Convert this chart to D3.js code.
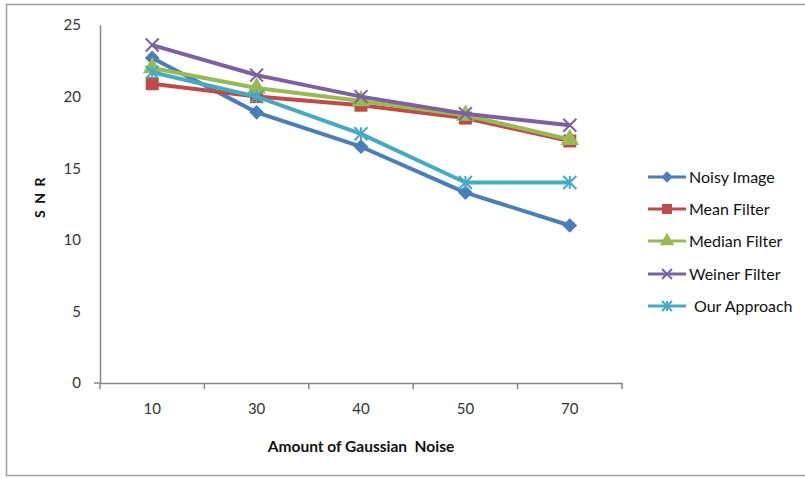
<!DOCTYPE html>
<html><head><meta charset="utf-8">
<script src="https://cdn.jsdelivr.net/npm/d3@7"></script>
<style>body{margin:0;background:#fff}svg{display:block}text{font-family:Lato,"Open Sans",sans-serif;white-space:pre}</style>
</head><body>
<script>
const categories = ["10","30","40","50","70"];
const noisyImage = [22.7, 18.9, 16.5, 13.3, 11.0];
const meanFilter = [20.9, 20.0, 19.4, 18.5, 16.9];
const medianFilter = [22.0, 20.6, 19.7, 18.7, 17.0];
const weinerFilter = [23.6, 21.5, 20.0, 18.8, 18.0];
const ourApproach = [21.7, 20.0, 17.4, 14.0, 14.0];
const yTicks = [0,5,10,15,20,25];
const seriesNames = ["Noisy Image","Mean Filter","Median Filter","Weiner Filter","Our Approach"];
const seriesColors = ["#4a7ebb","#be4b48","#98b954","#7d60a0","#46aac5"];
const seriesMarkers = ["diamond","square","triangle","x","star"];
const seriesData = [noisyImage, meanFilter, medianFilter, weinerFilter, ourApproach];

const W=805,H=479;
const svg=d3.select("body").append("svg").attr("width",W).attr("height",H);
svg.append("rect").attr("x",6.5).attr("y",4.5).attr("width",W+10).attr("height",471).attr("fill","#fff").attr("stroke","#a0a0a0").attr("stroke-width",1.5);

const x=d3.scaleBand().domain(categories).range([100,622]);
const y=d3.scaleLinear().domain([0,25]).range([383,25]);

const yAx=svg.append("g").attr("transform","translate(100,0)").call(d3.axisLeft(y).tickValues(yTicks).tickSize(0).tickPadding(19));
const xAx=svg.append("g").attr("transform","translate(0,383)").call(d3.axisBottom(x).tickSize(0).tickPadding(20));
[yAx,xAx].forEach(g=>{g.select(".domain").attr("stroke","#878787").attr("stroke-width",1.5);g.selectAll("text").attr("font-size",15).attr("fill","#333");});
const bounds=categories.map(c=>x(c)).concat([x.range()[1]]);
svg.append("g").selectAll("line").data(bounds).join("line")
 .attr("x1",d=>d).attr("x2",d=>d).attr("y1",383).attr("y2",389).attr("stroke","#878787").attr("stroke-width",1.5);
svg.append("line").attr("x1",94).attr("x2",100).attr("y1",383).attr("y2",383).attr("stroke","#878787").attr("stroke-width",1.5);

svg.append("text").attr("x",361).attr("y",452).attr("text-anchor","middle").attr("font-size",15.5).attr("font-weight","bold").attr("fill","#111").text("Amount of Gaussian  Noise");
svg.append("text").attr("transform","translate(45,197) rotate(-90)").attr("text-anchor","middle").attr("font-size",14).attr("font-weight","bold").attr("letter-spacing",1.5).attr("fill","#111").text("S N R");

function marker(g,type,color,s){
  if(type==="diamond") g.append("rect").attr("x",-s*0.4).attr("y",-s*0.4).attr("width",s*0.8).attr("height",s*0.8).attr("transform","rotate(45)").attr("fill",color);
  else if(type==="square") g.append("rect").attr("x",-s/2).attr("y",-s/2).attr("width",s).attr("height",s).attr("fill",color);
  else if(type==="triangle") g.append("path").attr("d",d3.symbol(d3.symbolTriangle,s*s*0.9)()).attr("fill",color);
  else if(type==="x"){const h=s/2;g.append("path").attr("d",`M${-h},${-h}L${h},${h}M${-h},${h}L${h},${-h}`).attr("stroke",color).attr("stroke-width",2);}
  else if(type==="star"){const h=s/2;g.append("path").attr("d",`M${-h},${-h}L${h},${h}M${-h},${h}L${h},${-h}M0,${-h}L0,${h}`).attr("stroke",color).attr("stroke-width",2);}
}

const line=d3.line().x((d,i)=>x(categories[i])+x.bandwidth()/2).y(d=>y(d));
seriesData.forEach((data,k)=>{
  const g=svg.append("g");
  g.append("path").attr("d",line(data)).attr("fill","none").attr("stroke",seriesColors[k]).attr("stroke-width",4).attr("stroke-linejoin","round");
  data.forEach((v,i)=>{
    const mg=g.append("g").attr("transform",`translate(${x(categories[i])+x.bandwidth()/2},${y(v)})`);
    marker(mg,seriesMarkers[k],seriesColors[k],13);
  });
});

const legY=[177,209,241,274,306];
seriesNames.forEach((n,k)=>{
  const g=svg.append("g").attr("transform",`translate(0,${legY[k]})`);
  g.append("line").attr("x1",648).attr("x2",686).attr("stroke",seriesColors[k]).attr("stroke-width",3);
  const mg=g.append("g").attr("transform","translate(667,0)");
  marker(mg,seriesMarkers[k],seriesColors[k],10);
  g.append("text").attr("x",k===4?694:689).attr("y",5.5).attr("font-size",16).attr("fill","#111").text(n);
});
</script>
</body></html>
